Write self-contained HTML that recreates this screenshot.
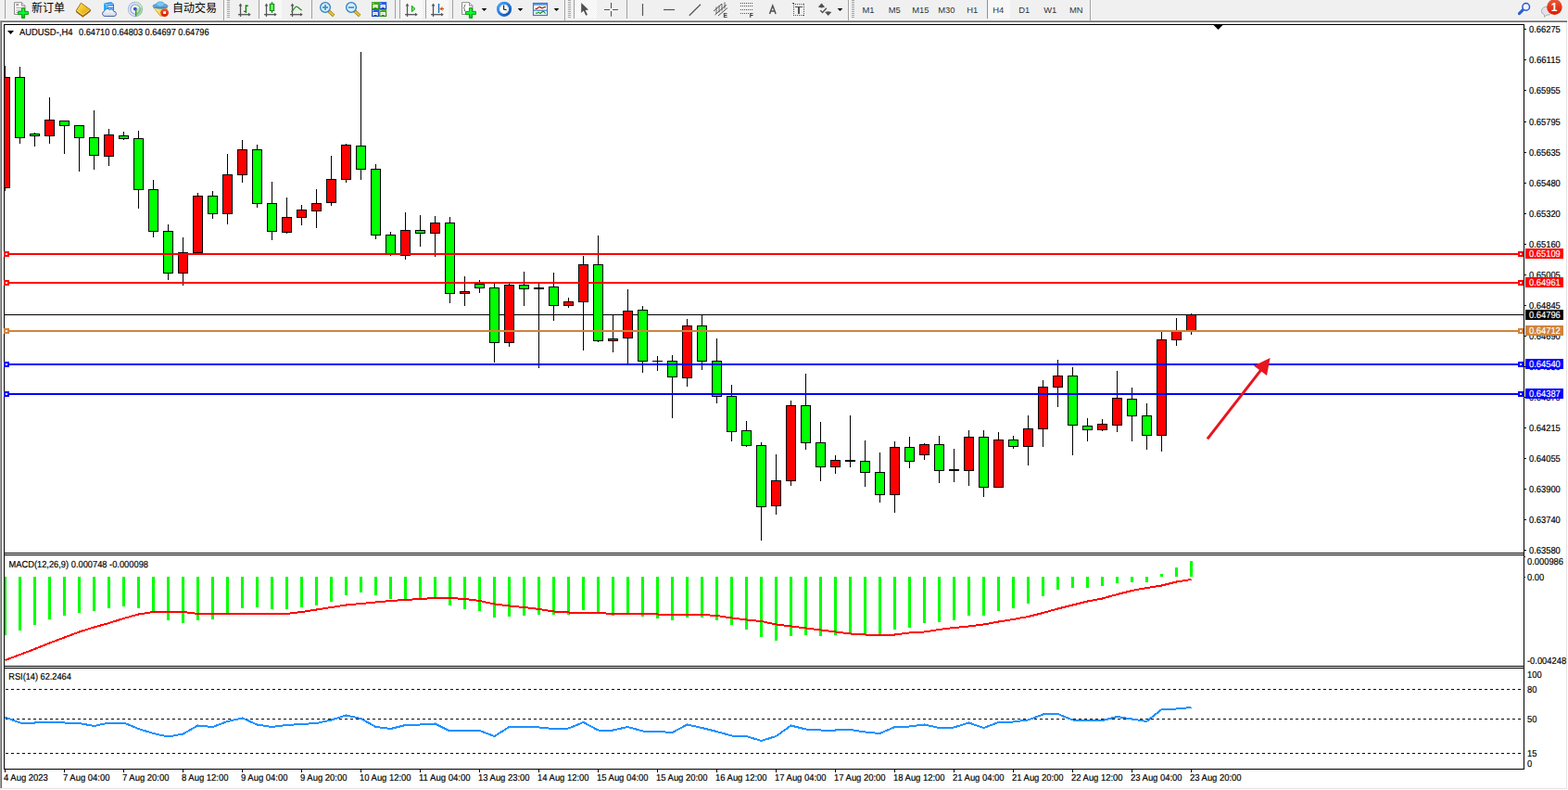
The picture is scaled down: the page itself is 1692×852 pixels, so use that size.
<!DOCTYPE html>
<html><head><meta charset="utf-8"><title>AUDUSD H4</title>
<style>
html,body{margin:0;padding:0;background:#f0f0f0;overflow:hidden}
svg{display:block}
text{font-family:"Liberation Sans",sans-serif;}
</style></head><body>
<svg width="1692" height="852" viewBox="0 0 1692 852" shape-rendering="crispEdges">
<defs>
<clipPath id="cm"><rect x="5" y="27" width="1639" height="569"/></clipPath>
<clipPath id="cm2"><rect x="5" y="599" width="1639" height="119"/></clipPath>
<clipPath id="cm3"><rect x="5" y="721" width="1639" height="108"/></clipPath>
</defs>
<rect x="0" y="0" width="1692" height="852" fill="#f0f0f0"/>
<rect x="0" y="21" width="1692" height="1" fill="#f8f8f8"/>
<rect x="0" y="22" width="1691" height="1" fill="#a0a0a0"/>
<rect x="0" y="23" width="1691" height="1" fill="#696969"/>
<rect x="2" y="24" width="1690" height="828" fill="#fff"/>
<rect x="0" y="22" width="1" height="828" fill="#a0a0a0"/>
<rect x="1" y="23" width="1" height="827" fill="#696969"/>
<rect x="1690" y="24" width="1" height="827" fill="#e3e3e3"/>
<rect x="2" y="850" width="1689" height="1" fill="#e3e3e3"/>
<rect x="0" y="850" width="2" height="2" fill="#f0f0f0"/>
<rect x="4" y="26" width="1641" height="1" fill="#000"/>
<rect x="4" y="596" width="1641" height="1" fill="#000"/>
<rect x="4" y="598" width="1641" height="1" fill="#000"/>
<rect x="4" y="718" width="1641" height="1" fill="#000"/>
<rect x="4" y="720" width="1641" height="1" fill="#000"/>
<rect x="4" y="829" width="1641" height="1" fill="#000"/>
<rect x="4" y="26" width="1" height="804" fill="#000"/>
<rect x="1644" y="26" width="1" height="804" fill="#000"/>
<rect x="1645" y="31" width="2" height="1" fill="#000"/>
<text x="1650" y="35" font-size="10.2" fill="#000" textLength="33.8" lengthAdjust="spacingAndGlyphs" text-rendering="geometricPrecision" stroke="#000" stroke-width=".18">0.66275</text>
<rect x="1645" y="64" width="2" height="1" fill="#000"/>
<text x="1650" y="68" font-size="10.2" fill="#000" textLength="33.8" lengthAdjust="spacingAndGlyphs" text-rendering="geometricPrecision" stroke="#000" stroke-width=".18">0.66115</text>
<rect x="1645" y="97" width="2" height="1" fill="#000"/>
<text x="1650" y="101" font-size="10.2" fill="#000" textLength="33.8" lengthAdjust="spacingAndGlyphs" text-rendering="geometricPrecision" stroke="#000" stroke-width=".18">0.65955</text>
<rect x="1645" y="131" width="2" height="1" fill="#000"/>
<text x="1650" y="135" font-size="10.2" fill="#000" textLength="33.8" lengthAdjust="spacingAndGlyphs" text-rendering="geometricPrecision" stroke="#000" stroke-width=".18">0.65795</text>
<rect x="1645" y="164" width="2" height="1" fill="#000"/>
<text x="1650" y="168" font-size="10.2" fill="#000" textLength="33.8" lengthAdjust="spacingAndGlyphs" text-rendering="geometricPrecision" stroke="#000" stroke-width=".18">0.65635</text>
<rect x="1645" y="197" width="2" height="1" fill="#000"/>
<text x="1650" y="201" font-size="10.2" fill="#000" textLength="33.8" lengthAdjust="spacingAndGlyphs" text-rendering="geometricPrecision" stroke="#000" stroke-width=".18">0.65480</text>
<rect x="1645" y="230" width="2" height="1" fill="#000"/>
<text x="1650" y="234" font-size="10.2" fill="#000" textLength="33.8" lengthAdjust="spacingAndGlyphs" text-rendering="geometricPrecision" stroke="#000" stroke-width=".18">0.65320</text>
<rect x="1645" y="263" width="2" height="1" fill="#000"/>
<text x="1650" y="267" font-size="10.2" fill="#000" textLength="33.8" lengthAdjust="spacingAndGlyphs" text-rendering="geometricPrecision" stroke="#000" stroke-width=".18">0.65160</text>
<rect x="1645" y="296" width="2" height="1" fill="#000"/>
<text x="1650" y="300" font-size="10.2" fill="#000" textLength="33.8" lengthAdjust="spacingAndGlyphs" text-rendering="geometricPrecision" stroke="#000" stroke-width=".18">0.65005</text>
<rect x="1645" y="329" width="2" height="1" fill="#000"/>
<text x="1650" y="333" font-size="10.2" fill="#000" textLength="33.8" lengthAdjust="spacingAndGlyphs" text-rendering="geometricPrecision" stroke="#000" stroke-width=".18">0.64845</text>
<rect x="1645" y="362" width="2" height="1" fill="#000"/>
<text x="1650" y="366" font-size="10.2" fill="#000" textLength="33.8" lengthAdjust="spacingAndGlyphs" text-rendering="geometricPrecision" stroke="#000" stroke-width=".18">0.64690</text>
<rect x="1645" y="395" width="2" height="1" fill="#000"/>
<text x="1650" y="399" font-size="10.2" fill="#000" textLength="33.8" lengthAdjust="spacingAndGlyphs" text-rendering="geometricPrecision" stroke="#000" stroke-width=".18">0.64530</text>
<rect x="1645" y="428" width="2" height="1" fill="#000"/>
<text x="1650" y="432" font-size="10.2" fill="#000" textLength="33.8" lengthAdjust="spacingAndGlyphs" text-rendering="geometricPrecision" stroke="#000" stroke-width=".18">0.64370</text>
<rect x="1645" y="461" width="2" height="1" fill="#000"/>
<text x="1650" y="465" font-size="10.2" fill="#000" textLength="33.8" lengthAdjust="spacingAndGlyphs" text-rendering="geometricPrecision" stroke="#000" stroke-width=".18">0.64215</text>
<rect x="1645" y="494" width="2" height="1" fill="#000"/>
<text x="1650" y="498" font-size="10.2" fill="#000" textLength="33.8" lengthAdjust="spacingAndGlyphs" text-rendering="geometricPrecision" stroke="#000" stroke-width=".18">0.64055</text>
<rect x="1645" y="527" width="2" height="1" fill="#000"/>
<text x="1650" y="531" font-size="10.2" fill="#000" textLength="33.8" lengthAdjust="spacingAndGlyphs" text-rendering="geometricPrecision" stroke="#000" stroke-width=".18">0.63900</text>
<rect x="1645" y="560" width="2" height="1" fill="#000"/>
<text x="1650" y="564" font-size="10.2" fill="#000" textLength="33.8" lengthAdjust="spacingAndGlyphs" text-rendering="geometricPrecision" stroke="#000" stroke-width=".18">0.63740</text>
<rect x="1645" y="593" width="2" height="1" fill="#000"/>
<text x="1650" y="597" font-size="10.2" fill="#000" textLength="33.8" lengthAdjust="spacingAndGlyphs" text-rendering="geometricPrecision" stroke="#000" stroke-width=".18">0.63580</text>
<rect x="5" y="339" width="1639" height="1" fill="#000"/>
<g clip-path="url(#cm)">
<rect x="5" y="71" width="1" height="135" fill="#000"/>
<rect x="0" y="83" width="11" height="120" fill="#000"/>
<rect x="1" y="84" width="9" height="118" fill="#ff0000"/>
<rect x="21" y="72" width="1" height="83" fill="#000"/>
<rect x="16" y="83" width="11" height="66" fill="#000"/>
<rect x="17" y="84" width="9" height="64" fill="#00ff00"/>
<rect x="37" y="143" width="1" height="15" fill="#000"/>
<rect x="32" y="144" width="11" height="3" fill="#000"/>
<rect x="33" y="145" width="9" height="1" fill="#00ff00"/>
<rect x="53" y="105" width="1" height="50" fill="#000"/>
<rect x="48" y="129" width="11" height="18" fill="#000"/>
<rect x="49" y="130" width="9" height="16" fill="#ff0000"/>
<rect x="69" y="130" width="1" height="36" fill="#000"/>
<rect x="64" y="130" width="11" height="6" fill="#000"/>
<rect x="65" y="131" width="9" height="4" fill="#00ff00"/>
<rect x="85" y="135" width="1" height="50" fill="#000"/>
<rect x="80" y="135" width="11" height="14" fill="#000"/>
<rect x="81" y="136" width="9" height="12" fill="#00ff00"/>
<rect x="101" y="119" width="1" height="64" fill="#000"/>
<rect x="96" y="148" width="11" height="20" fill="#000"/>
<rect x="97" y="149" width="9" height="18" fill="#00ff00"/>
<rect x="117" y="139" width="1" height="40" fill="#000"/>
<rect x="112" y="145" width="11" height="24" fill="#000"/>
<rect x="113" y="146" width="9" height="22" fill="#ff0000"/>
<rect x="133" y="142" width="1" height="9" fill="#000"/>
<rect x="128" y="146" width="11" height="4" fill="#000"/>
<rect x="129" y="147" width="9" height="2" fill="#00ff00"/>
<rect x="149" y="141" width="1" height="84" fill="#000"/>
<rect x="144" y="149" width="11" height="56" fill="#000"/>
<rect x="145" y="150" width="9" height="54" fill="#00ff00"/>
<rect x="165" y="194" width="1" height="62" fill="#000"/>
<rect x="160" y="204" width="11" height="46" fill="#000"/>
<rect x="161" y="205" width="9" height="44" fill="#00ff00"/>
<rect x="181" y="242" width="1" height="60" fill="#000"/>
<rect x="176" y="249" width="11" height="46" fill="#000"/>
<rect x="177" y="250" width="9" height="44" fill="#00ff00"/>
<rect x="197" y="256" width="1" height="52" fill="#000"/>
<rect x="192" y="272" width="11" height="23" fill="#000"/>
<rect x="193" y="273" width="9" height="21" fill="#ff0000"/>
<rect x="213" y="208" width="1" height="66" fill="#000"/>
<rect x="208" y="211" width="11" height="62" fill="#000"/>
<rect x="209" y="212" width="9" height="60" fill="#ff0000"/>
<rect x="229" y="206" width="1" height="30" fill="#000"/>
<rect x="224" y="211" width="11" height="20" fill="#000"/>
<rect x="225" y="212" width="9" height="18" fill="#00ff00"/>
<rect x="245" y="166" width="1" height="76" fill="#000"/>
<rect x="240" y="188" width="11" height="43" fill="#000"/>
<rect x="241" y="189" width="9" height="41" fill="#ff0000"/>
<rect x="261" y="151" width="1" height="46" fill="#000"/>
<rect x="256" y="161" width="11" height="28" fill="#000"/>
<rect x="257" y="162" width="9" height="26" fill="#ff0000"/>
<rect x="277" y="156" width="1" height="68" fill="#000"/>
<rect x="272" y="161" width="11" height="59" fill="#000"/>
<rect x="273" y="162" width="9" height="57" fill="#00ff00"/>
<rect x="293" y="196" width="1" height="63" fill="#000"/>
<rect x="288" y="219" width="11" height="31" fill="#000"/>
<rect x="289" y="220" width="9" height="29" fill="#00ff00"/>
<rect x="309" y="213" width="1" height="39" fill="#000"/>
<rect x="304" y="234" width="11" height="17" fill="#000"/>
<rect x="305" y="235" width="9" height="15" fill="#ff0000"/>
<rect x="325" y="221" width="1" height="22" fill="#000"/>
<rect x="320" y="226" width="11" height="9" fill="#000"/>
<rect x="321" y="227" width="9" height="7" fill="#ff0000"/>
<rect x="341" y="204" width="1" height="42" fill="#000"/>
<rect x="336" y="219" width="11" height="9" fill="#000"/>
<rect x="337" y="220" width="9" height="7" fill="#ff0000"/>
<rect x="357" y="168" width="1" height="54" fill="#000"/>
<rect x="352" y="193" width="11" height="26" fill="#000"/>
<rect x="353" y="194" width="9" height="24" fill="#ff0000"/>
<rect x="373" y="155" width="1" height="42" fill="#000"/>
<rect x="368" y="156" width="11" height="38" fill="#000"/>
<rect x="369" y="157" width="9" height="36" fill="#ff0000"/>
<rect x="389" y="56" width="1" height="138" fill="#000"/>
<rect x="384" y="157" width="11" height="26" fill="#000"/>
<rect x="385" y="158" width="9" height="24" fill="#00ff00"/>
<rect x="405" y="177" width="1" height="81" fill="#000"/>
<rect x="400" y="182" width="11" height="72" fill="#000"/>
<rect x="401" y="183" width="9" height="70" fill="#00ff00"/>
<rect x="421" y="250" width="1" height="26" fill="#000"/>
<rect x="416" y="253" width="11" height="22" fill="#000"/>
<rect x="417" y="254" width="9" height="20" fill="#00ff00"/>
<rect x="437" y="229" width="1" height="51" fill="#000"/>
<rect x="432" y="248" width="11" height="28" fill="#000"/>
<rect x="433" y="249" width="9" height="26" fill="#ff0000"/>
<rect x="453" y="232" width="1" height="34" fill="#000"/>
<rect x="448" y="248" width="11" height="4" fill="#000"/>
<rect x="449" y="249" width="9" height="2" fill="#00ff00"/>
<rect x="469" y="233" width="1" height="44" fill="#000"/>
<rect x="464" y="240" width="11" height="12" fill="#000"/>
<rect x="465" y="241" width="9" height="10" fill="#ff0000"/>
<rect x="485" y="234" width="1" height="93" fill="#000"/>
<rect x="480" y="240" width="11" height="77" fill="#000"/>
<rect x="481" y="241" width="9" height="75" fill="#00ff00"/>
<rect x="501" y="298" width="1" height="32" fill="#000"/>
<rect x="496" y="314" width="11" height="3" fill="#000"/>
<rect x="497" y="315" width="9" height="1" fill="#ff0000"/>
<rect x="517" y="302" width="1" height="14" fill="#000"/>
<rect x="512" y="306" width="11" height="5" fill="#000"/>
<rect x="513" y="307" width="9" height="3" fill="#00ff00"/>
<rect x="533" y="306" width="1" height="85" fill="#000"/>
<rect x="528" y="310" width="11" height="60" fill="#000"/>
<rect x="529" y="311" width="9" height="58" fill="#00ff00"/>
<rect x="549" y="306" width="1" height="68" fill="#000"/>
<rect x="544" y="307" width="11" height="63" fill="#000"/>
<rect x="545" y="308" width="9" height="61" fill="#ff0000"/>
<rect x="565" y="293" width="1" height="37" fill="#000"/>
<rect x="560" y="307" width="11" height="5" fill="#000"/>
<rect x="561" y="308" width="9" height="3" fill="#00ff00"/>
<rect x="581" y="306" width="1" height="91" fill="#000"/>
<rect x="576" y="310" width="11" height="2" fill="#000"/>
<rect x="597" y="294" width="1" height="52" fill="#000"/>
<rect x="592" y="309" width="11" height="21" fill="#000"/>
<rect x="593" y="310" width="9" height="19" fill="#00ff00"/>
<rect x="613" y="321" width="1" height="11" fill="#000"/>
<rect x="608" y="325" width="11" height="5" fill="#000"/>
<rect x="609" y="326" width="9" height="3" fill="#ff0000"/>
<rect x="629" y="276" width="1" height="102" fill="#000"/>
<rect x="624" y="285" width="11" height="41" fill="#000"/>
<rect x="625" y="286" width="9" height="39" fill="#ff0000"/>
<rect x="645" y="254" width="1" height="115" fill="#000"/>
<rect x="640" y="285" width="11" height="83" fill="#000"/>
<rect x="641" y="286" width="9" height="81" fill="#00ff00"/>
<rect x="661" y="340" width="1" height="40" fill="#000"/>
<rect x="656" y="365" width="11" height="3" fill="#000"/>
<rect x="657" y="366" width="9" height="1" fill="#ff0000"/>
<rect x="677" y="312" width="1" height="80" fill="#000"/>
<rect x="672" y="335" width="11" height="30" fill="#000"/>
<rect x="673" y="336" width="9" height="28" fill="#ff0000"/>
<rect x="693" y="330" width="1" height="72" fill="#000"/>
<rect x="688" y="334" width="11" height="56" fill="#000"/>
<rect x="689" y="335" width="9" height="54" fill="#00ff00"/>
<rect x="709" y="384" width="1" height="16" fill="#000"/>
<rect x="704" y="389" width="11" height="1" fill="#000"/>
<rect x="725" y="383" width="1" height="68" fill="#000"/>
<rect x="720" y="389" width="11" height="18" fill="#000"/>
<rect x="721" y="390" width="9" height="16" fill="#00ff00"/>
<rect x="741" y="344" width="1" height="73" fill="#000"/>
<rect x="736" y="351" width="11" height="57" fill="#000"/>
<rect x="737" y="352" width="9" height="55" fill="#ff0000"/>
<rect x="757" y="340" width="1" height="59" fill="#000"/>
<rect x="752" y="351" width="11" height="39" fill="#000"/>
<rect x="753" y="352" width="9" height="37" fill="#00ff00"/>
<rect x="773" y="365" width="1" height="70" fill="#000"/>
<rect x="768" y="389" width="11" height="39" fill="#000"/>
<rect x="769" y="390" width="9" height="37" fill="#00ff00"/>
<rect x="789" y="415" width="1" height="61" fill="#000"/>
<rect x="784" y="427" width="11" height="39" fill="#000"/>
<rect x="785" y="428" width="9" height="37" fill="#00ff00"/>
<rect x="805" y="454" width="1" height="28" fill="#000"/>
<rect x="800" y="464" width="11" height="17" fill="#000"/>
<rect x="801" y="465" width="9" height="15" fill="#00ff00"/>
<rect x="821" y="477" width="1" height="106" fill="#000"/>
<rect x="816" y="480" width="11" height="67" fill="#000"/>
<rect x="817" y="481" width="9" height="65" fill="#00ff00"/>
<rect x="837" y="490" width="1" height="65" fill="#000"/>
<rect x="832" y="518" width="11" height="28" fill="#000"/>
<rect x="833" y="519" width="9" height="26" fill="#ff0000"/>
<rect x="853" y="432" width="1" height="92" fill="#000"/>
<rect x="848" y="437" width="11" height="82" fill="#000"/>
<rect x="849" y="438" width="9" height="80" fill="#ff0000"/>
<rect x="869" y="403" width="1" height="82" fill="#000"/>
<rect x="864" y="437" width="11" height="41" fill="#000"/>
<rect x="865" y="438" width="9" height="39" fill="#00ff00"/>
<rect x="885" y="455" width="1" height="64" fill="#000"/>
<rect x="880" y="477" width="11" height="27" fill="#000"/>
<rect x="881" y="478" width="9" height="25" fill="#00ff00"/>
<rect x="901" y="491" width="1" height="20" fill="#000"/>
<rect x="896" y="496" width="11" height="8" fill="#000"/>
<rect x="897" y="497" width="9" height="6" fill="#ff0000"/>
<rect x="917" y="448" width="1" height="56" fill="#000"/>
<rect x="912" y="496" width="11" height="2" fill="#000"/>
<rect x="933" y="475" width="1" height="50" fill="#000"/>
<rect x="928" y="497" width="11" height="13" fill="#000"/>
<rect x="929" y="498" width="9" height="11" fill="#00ff00"/>
<rect x="949" y="488" width="1" height="54" fill="#000"/>
<rect x="944" y="509" width="11" height="25" fill="#000"/>
<rect x="945" y="510" width="9" height="23" fill="#00ff00"/>
<rect x="965" y="476" width="1" height="77" fill="#000"/>
<rect x="960" y="482" width="11" height="52" fill="#000"/>
<rect x="961" y="483" width="9" height="50" fill="#ff0000"/>
<rect x="981" y="471" width="1" height="34" fill="#000"/>
<rect x="976" y="482" width="11" height="16" fill="#000"/>
<rect x="977" y="483" width="9" height="14" fill="#00ff00"/>
<rect x="997" y="478" width="1" height="18" fill="#000"/>
<rect x="992" y="479" width="11" height="12" fill="#000"/>
<rect x="993" y="480" width="9" height="10" fill="#ff0000"/>
<rect x="1013" y="470" width="1" height="51" fill="#000"/>
<rect x="1008" y="479" width="11" height="29" fill="#000"/>
<rect x="1009" y="480" width="9" height="27" fill="#00ff00"/>
<rect x="1029" y="484" width="1" height="36" fill="#000"/>
<rect x="1024" y="506" width="11" height="2" fill="#000"/>
<rect x="1045" y="464" width="1" height="60" fill="#000"/>
<rect x="1040" y="471" width="11" height="37" fill="#000"/>
<rect x="1041" y="472" width="9" height="35" fill="#ff0000"/>
<rect x="1061" y="464" width="1" height="72" fill="#000"/>
<rect x="1056" y="471" width="11" height="55" fill="#000"/>
<rect x="1057" y="472" width="9" height="53" fill="#00ff00"/>
<rect x="1077" y="466" width="1" height="60" fill="#000"/>
<rect x="1072" y="474" width="11" height="52" fill="#000"/>
<rect x="1073" y="475" width="9" height="50" fill="#ff0000"/>
<rect x="1093" y="470" width="1" height="14" fill="#000"/>
<rect x="1088" y="474" width="11" height="8" fill="#000"/>
<rect x="1089" y="475" width="9" height="6" fill="#00ff00"/>
<rect x="1109" y="448" width="1" height="54" fill="#000"/>
<rect x="1104" y="462" width="11" height="20" fill="#000"/>
<rect x="1105" y="463" width="9" height="18" fill="#ff0000"/>
<rect x="1125" y="410" width="1" height="72" fill="#000"/>
<rect x="1120" y="417" width="11" height="46" fill="#000"/>
<rect x="1121" y="418" width="9" height="44" fill="#ff0000"/>
<rect x="1141" y="388" width="1" height="51" fill="#000"/>
<rect x="1136" y="405" width="11" height="13" fill="#000"/>
<rect x="1137" y="406" width="9" height="11" fill="#ff0000"/>
<rect x="1157" y="396" width="1" height="95" fill="#000"/>
<rect x="1152" y="405" width="11" height="54" fill="#000"/>
<rect x="1153" y="406" width="9" height="52" fill="#00ff00"/>
<rect x="1173" y="451" width="1" height="25" fill="#000"/>
<rect x="1168" y="459" width="11" height="5" fill="#000"/>
<rect x="1169" y="460" width="9" height="3" fill="#00ff00"/>
<rect x="1189" y="452" width="1" height="13" fill="#000"/>
<rect x="1184" y="457" width="11" height="7" fill="#000"/>
<rect x="1185" y="458" width="9" height="5" fill="#ff0000"/>
<rect x="1205" y="400" width="1" height="66" fill="#000"/>
<rect x="1200" y="429" width="11" height="30" fill="#000"/>
<rect x="1201" y="430" width="9" height="28" fill="#ff0000"/>
<rect x="1221" y="418" width="1" height="58" fill="#000"/>
<rect x="1216" y="430" width="11" height="19" fill="#000"/>
<rect x="1217" y="431" width="9" height="17" fill="#00ff00"/>
<rect x="1237" y="435" width="1" height="50" fill="#000"/>
<rect x="1232" y="448" width="11" height="22" fill="#000"/>
<rect x="1233" y="449" width="9" height="20" fill="#00ff00"/>
<rect x="1253" y="358" width="1" height="129" fill="#000"/>
<rect x="1248" y="366" width="11" height="104" fill="#000"/>
<rect x="1249" y="367" width="9" height="102" fill="#ff0000"/>
<rect x="1269" y="343" width="1" height="30" fill="#000"/>
<rect x="1264" y="357" width="11" height="10" fill="#000"/>
<rect x="1265" y="358" width="9" height="8" fill="#ff0000"/>
<rect x="1285" y="338" width="1" height="23" fill="#000"/>
<rect x="1280" y="339" width="11" height="18" fill="#000"/>
<rect x="1281" y="340" width="9" height="16" fill="#ff0000"/>
</g>
<rect x="5" y="273" width="1639" height="2" fill="#ff0000"/>
<rect x="4" y="271" width="6" height="6" fill="#ff0000"/>
<rect x="6" y="273" width="2" height="2" fill="#fff"/>
<rect x="1638" y="271" width="6" height="6" fill="#ff0000"/>
<rect x="1640" y="273" width="2" height="2" fill="#fff"/>
<rect x="1646" y="268" width="41" height="11" fill="#ff0000"/>
<text x="1650" y="277" font-size="10.2" fill="#fff" textLength="33.8" lengthAdjust="spacingAndGlyphs" text-rendering="geometricPrecision" stroke="#fff" stroke-width=".18">0.65109</text>
<rect x="5" y="304" width="1639" height="2" fill="#ff0000"/>
<rect x="4" y="302" width="6" height="6" fill="#ff0000"/>
<rect x="6" y="304" width="2" height="2" fill="#fff"/>
<rect x="1638" y="302" width="6" height="6" fill="#ff0000"/>
<rect x="1640" y="304" width="2" height="2" fill="#fff"/>
<rect x="1646" y="299" width="41" height="11" fill="#ff0000"/>
<text x="1650" y="308" font-size="10.2" fill="#fff" textLength="33.8" lengthAdjust="spacingAndGlyphs" text-rendering="geometricPrecision" stroke="#fff" stroke-width=".18">0.64961</text>
<rect x="1646" y="334" width="41" height="11" fill="#000"/>
<text x="1650" y="343" font-size="10.2" fill="#fff" textLength="33.8" lengthAdjust="spacingAndGlyphs" text-rendering="geometricPrecision" stroke="#fff" stroke-width=".18">0.64796</text>
<rect x="5" y="356" width="1639" height="2" fill="#d0843c"/>
<rect x="4" y="354" width="6" height="6" fill="#d0843c"/>
<rect x="6" y="356" width="2" height="2" fill="#fff"/>
<rect x="1638" y="354" width="6" height="6" fill="#d0843c"/>
<rect x="1640" y="356" width="2" height="2" fill="#fff"/>
<rect x="1646" y="351" width="41" height="11" fill="#d0843c"/>
<text x="1650" y="360" font-size="10.2" fill="#fff" textLength="33.8" lengthAdjust="spacingAndGlyphs" text-rendering="geometricPrecision" stroke="#fff" stroke-width=".18">0.64712</text>
<rect x="5" y="392" width="1639" height="2" fill="#0000ff"/>
<rect x="4" y="390" width="6" height="6" fill="#0000ff"/>
<rect x="6" y="392" width="2" height="2" fill="#fff"/>
<rect x="1638" y="390" width="6" height="6" fill="#0000ff"/>
<rect x="1640" y="392" width="2" height="2" fill="#fff"/>
<rect x="1646" y="387" width="41" height="11" fill="#0000ff"/>
<text x="1650" y="396" font-size="10.2" fill="#fff" textLength="33.8" lengthAdjust="spacingAndGlyphs" text-rendering="geometricPrecision" stroke="#fff" stroke-width=".18">0.64540</text>
<rect x="5" y="424" width="1639" height="2" fill="#0000ff"/>
<rect x="4" y="422" width="6" height="6" fill="#0000ff"/>
<rect x="6" y="424" width="2" height="2" fill="#fff"/>
<rect x="1638" y="422" width="6" height="6" fill="#0000ff"/>
<rect x="1640" y="424" width="2" height="2" fill="#fff"/>
<rect x="1646" y="419" width="41" height="11" fill="#0000ff"/>
<text x="1650" y="428" font-size="10.2" fill="#fff" textLength="33.8" lengthAdjust="spacingAndGlyphs" text-rendering="geometricPrecision" stroke="#fff" stroke-width=".18">0.64387</text>
<g shape-rendering="geometricPrecision"><line x1="1302.9" y1="473.3" x2="1361" y2="398.6" stroke="#e8151f" stroke-width="3"/><polygon points="1370.6,386 1353,394.4 1367,404.9" fill="#e8151f"/></g>
<polygon points="1309.5,27 1319.5,27 1314.5,32" fill="#000" shape-rendering="geometricPrecision"/>
<polygon points="8,33 15,33 11.5,37" fill="#000" shape-rendering="geometricPrecision"/>
<text x="21" y="38" font-size="10.2" fill="#000" textLength="57.4" lengthAdjust="spacingAndGlyphs" text-rendering="geometricPrecision" stroke="#000" stroke-width=".18">AUDUSD-,H4</text>
<text x="85.1" y="38" font-size="10.2" fill="#000" textLength="140.4" lengthAdjust="spacingAndGlyphs" text-rendering="geometricPrecision" stroke="#000" stroke-width=".18">0.64710 0.64803 0.64697 0.64796</text>
<g clip-path="url(#cm2)">
<rect x="4" y="622" width="3" height="63" fill="#00ff00"/>
<rect x="20" y="622" width="3" height="58" fill="#00ff00"/>
<rect x="36" y="622" width="3" height="52" fill="#00ff00"/>
<rect x="52" y="622" width="3" height="46" fill="#00ff00"/>
<rect x="68" y="622" width="3" height="42" fill="#00ff00"/>
<rect x="84" y="622" width="3" height="39" fill="#00ff00"/>
<rect x="100" y="622" width="3" height="37" fill="#00ff00"/>
<rect x="116" y="622" width="3" height="34" fill="#00ff00"/>
<rect x="132" y="622" width="3" height="32" fill="#00ff00"/>
<rect x="148" y="622" width="3" height="34" fill="#00ff00"/>
<rect x="164" y="622" width="3" height="38" fill="#00ff00"/>
<rect x="180" y="622" width="3" height="47" fill="#00ff00"/>
<rect x="196" y="622" width="3" height="50" fill="#00ff00"/>
<rect x="212" y="622" width="3" height="47" fill="#00ff00"/>
<rect x="228" y="622" width="3" height="46" fill="#00ff00"/>
<rect x="244" y="622" width="3" height="40" fill="#00ff00"/>
<rect x="260" y="622" width="3" height="34" fill="#00ff00"/>
<rect x="276" y="622" width="3" height="33" fill="#00ff00"/>
<rect x="292" y="622" width="3" height="35" fill="#00ff00"/>
<rect x="308" y="622" width="3" height="35" fill="#00ff00"/>
<rect x="324" y="622" width="3" height="33" fill="#00ff00"/>
<rect x="340" y="622" width="3" height="31" fill="#00ff00"/>
<rect x="356" y="622" width="3" height="27" fill="#00ff00"/>
<rect x="372" y="622" width="3" height="20" fill="#00ff00"/>
<rect x="388" y="622" width="3" height="17" fill="#00ff00"/>
<rect x="404" y="622" width="3" height="20" fill="#00ff00"/>
<rect x="420" y="622" width="3" height="24" fill="#00ff00"/>
<rect x="436" y="622" width="3" height="24" fill="#00ff00"/>
<rect x="452" y="622" width="3" height="24" fill="#00ff00"/>
<rect x="468" y="622" width="3" height="23" fill="#00ff00"/>
<rect x="484" y="622" width="3" height="31" fill="#00ff00"/>
<rect x="500" y="622" width="3" height="35" fill="#00ff00"/>
<rect x="516" y="622" width="3" height="37" fill="#00ff00"/>
<rect x="532" y="622" width="3" height="44" fill="#00ff00"/>
<rect x="548" y="622" width="3" height="43" fill="#00ff00"/>
<rect x="564" y="622" width="3" height="42" fill="#00ff00"/>
<rect x="580" y="622" width="3" height="41" fill="#00ff00"/>
<rect x="596" y="622" width="3" height="41" fill="#00ff00"/>
<rect x="612" y="622" width="3" height="41" fill="#00ff00"/>
<rect x="628" y="622" width="3" height="36" fill="#00ff00"/>
<rect x="644" y="622" width="3" height="39" fill="#00ff00"/>
<rect x="660" y="622" width="3" height="42" fill="#00ff00"/>
<rect x="676" y="622" width="3" height="40" fill="#00ff00"/>
<rect x="692" y="622" width="3" height="43" fill="#00ff00"/>
<rect x="708" y="622" width="3" height="45" fill="#00ff00"/>
<rect x="724" y="622" width="3" height="47" fill="#00ff00"/>
<rect x="740" y="622" width="3" height="44" fill="#00ff00"/>
<rect x="756" y="622" width="3" height="44" fill="#00ff00"/>
<rect x="772" y="622" width="3" height="47" fill="#00ff00"/>
<rect x="788" y="622" width="3" height="52" fill="#00ff00"/>
<rect x="804" y="622" width="3" height="57" fill="#00ff00"/>
<rect x="820" y="622" width="3" height="65" fill="#00ff00"/>
<rect x="836" y="622" width="3" height="69" fill="#00ff00"/>
<rect x="852" y="622" width="3" height="64" fill="#00ff00"/>
<rect x="868" y="622" width="3" height="63" fill="#00ff00"/>
<rect x="884" y="622" width="3" height="64" fill="#00ff00"/>
<rect x="900" y="622" width="3" height="63" fill="#00ff00"/>
<rect x="916" y="622" width="3" height="62" fill="#00ff00"/>
<rect x="932" y="622" width="3" height="62" fill="#00ff00"/>
<rect x="948" y="622" width="3" height="62" fill="#00ff00"/>
<rect x="964" y="622" width="3" height="57" fill="#00ff00"/>
<rect x="980" y="622" width="3" height="55" fill="#00ff00"/>
<rect x="996" y="622" width="3" height="50" fill="#00ff00"/>
<rect x="1012" y="622" width="3" height="49" fill="#00ff00"/>
<rect x="1028" y="622" width="3" height="47" fill="#00ff00"/>
<rect x="1044" y="622" width="3" height="42" fill="#00ff00"/>
<rect x="1060" y="622" width="3" height="42" fill="#00ff00"/>
<rect x="1076" y="622" width="3" height="37" fill="#00ff00"/>
<rect x="1092" y="622" width="3" height="34" fill="#00ff00"/>
<rect x="1108" y="622" width="3" height="29" fill="#00ff00"/>
<rect x="1124" y="622" width="3" height="21" fill="#00ff00"/>
<rect x="1140" y="622" width="3" height="14" fill="#00ff00"/>
<rect x="1156" y="622" width="3" height="12" fill="#00ff00"/>
<rect x="1172" y="622" width="3" height="12" fill="#00ff00"/>
<rect x="1188" y="622" width="3" height="10" fill="#00ff00"/>
<rect x="1204" y="622" width="3" height="7" fill="#00ff00"/>
<rect x="1220" y="622" width="3" height="6" fill="#00ff00"/>
<rect x="1236" y="622" width="3" height="6" fill="#00ff00"/>
<rect x="1252" y="619" width="3" height="3" fill="#00ff00"/>
<rect x="1268" y="612" width="3" height="10" fill="#00ff00"/>
<rect x="1284" y="605" width="3" height="17" fill="#00ff00"/>
<polyline points="5.5,712.0 21.5,706.0 37.5,700.0 53.5,693.5 69.5,687.5 85.5,681.5 101.5,676.5 117.5,672.0 133.5,667.0 149.5,662.5 165.5,660.0 181.5,660.0 197.5,660.0 213.5,662.0 229.5,662.0 245.5,662.0 261.5,662.0 277.5,662.0 293.5,662.0 309.5,662.0 325.5,660.0 341.5,657.5 357.5,655.0 373.5,652.5 389.5,651.0 405.5,649.5 421.5,648.0 437.5,647.0 453.5,646.0 469.5,645.0 485.5,645.0 501.5,646.0 517.5,648.0 533.5,651.5 549.5,653.5 565.5,655.0 581.5,657.0 597.5,659.5 613.5,660.5 629.5,661.0 645.5,661.0 661.5,662.0 677.5,662.0 693.5,662.0 709.5,662.5 725.5,663.0 741.5,663.0 757.5,663.0 773.5,664.0 789.5,666.5 805.5,668.5 821.5,670.0 837.5,673.5 853.5,675.5 869.5,677.5 885.5,679.5 901.5,681.5 917.5,683.5 933.5,684.5 949.5,684.5 965.5,684.5 981.5,682.5 997.5,681.5 1013.5,679.0 1029.5,677.0 1045.5,675.5 1061.5,673.5 1077.5,670.5 1093.5,668.0 1109.5,665.0 1125.5,661.0 1141.5,656.5 1157.5,652.5 1173.5,648.5 1189.5,645.5 1205.5,641.0 1221.5,637.0 1237.5,634.0 1253.5,631.5 1269.5,627.5 1285.5,625.0" fill="none" stroke="#ff0000" stroke-width="2" stroke-linejoin="round"/>
</g>
<text x="9.5" y="612" font-size="10.2" fill="#000" textLength="150.5" lengthAdjust="spacingAndGlyphs" text-rendering="geometricPrecision" stroke="#000" stroke-width=".18">MACD(12,26,9) 0.000748 -0.000098</text>
<rect x="1645" y="600" width="1" height="1" fill="#000"/>
<text x="1648" y="609" font-size="10.2" fill="#000" textLength="39.0" lengthAdjust="spacingAndGlyphs" text-rendering="geometricPrecision" stroke="#000" stroke-width=".18">0.000986</text>
<rect x="1645" y="622" width="1" height="1" fill="#000"/>
<text x="1648" y="626" font-size="10.2" fill="#000" textLength="18.2" lengthAdjust="spacingAndGlyphs" text-rendering="geometricPrecision" stroke="#000" stroke-width=".18">0.00</text>
<text x="1648" y="716" font-size="10.2" fill="#000" textLength="42.1" lengthAdjust="spacingAndGlyphs" text-rendering="geometricPrecision" stroke="#000" stroke-width=".18">-0.004248</text>
<line x1="6" y1="743.5" x2="1642" y2="743.5" stroke="#000" stroke-width="1" stroke-dasharray="3,3"/>
<line x1="6" y1="775.5" x2="1642" y2="775.5" stroke="#000" stroke-width="1" stroke-dasharray="3,3"/>
<line x1="6" y1="812.5" x2="1642" y2="812.5" stroke="#000" stroke-width="1" stroke-dasharray="3,3"/>
<g clip-path="url(#cm3)"><polyline points="5.5,773.5 21.5,779.5 37.5,779.5 53.5,779.0 69.5,779.5 85.5,780.0 101.5,783.0 117.5,779.5 133.5,779.5 149.5,786.0 165.5,791.0 181.5,794.5 197.5,791.5 213.5,782.5 229.5,784.0 245.5,778.0 261.5,774.5 277.5,781.5 293.5,784.0 309.5,782.0 325.5,781.0 341.5,780.0 357.5,776.5 373.5,771.5 389.5,775.0 405.5,784.0 421.5,786.0 437.5,782.0 453.5,781.5 469.5,780.5 485.5,788.5 501.5,788.0 517.5,788.0 533.5,794.0 549.5,784.0 565.5,784.0 581.5,784.5 597.5,786.0 613.5,785.5 629.5,779.0 645.5,787.5 661.5,787.5 677.5,784.0 693.5,788.5 709.5,789.0 725.5,790.0 741.5,781.5 757.5,785.0 773.5,789.0 789.5,793.5 805.5,794.0 821.5,799.0 837.5,794.0 853.5,782.5 869.5,786.5 885.5,787.5 901.5,787.5 917.5,787.0 933.5,789.5 949.5,791.0 965.5,784.0 981.5,783.5 997.5,781.5 1013.5,785.0 1029.5,784.5 1045.5,779.5 1061.5,785.0 1077.5,779.0 1093.5,778.5 1109.5,776.5 1125.5,770.5 1141.5,770.0 1157.5,776.5 1173.5,777.0 1189.5,777.0 1205.5,773.0 1221.5,775.5 1237.5,778.0 1253.5,765.0 1269.5,764.5 1285.5,763.0" fill="none" stroke="#1e90ff" stroke-width="2" stroke-linejoin="round"/></g>
<text x="9.3" y="733" font-size="10.2" fill="#000" textLength="67.5" lengthAdjust="spacingAndGlyphs" text-rendering="geometricPrecision" stroke="#000" stroke-width=".18">RSI(14) 62.2464</text>
<text x="1648" y="731" font-size="10.2" fill="#000" textLength="15.6" lengthAdjust="spacingAndGlyphs" text-rendering="geometricPrecision" stroke="#000" stroke-width=".18">100</text>
<text x="1648" y="747" font-size="10.2" fill="#000" textLength="10.4" lengthAdjust="spacingAndGlyphs" text-rendering="geometricPrecision" stroke="#000" stroke-width=".18">80</text>
<text x="1648" y="779" font-size="10.2" fill="#000" textLength="10.4" lengthAdjust="spacingAndGlyphs" text-rendering="geometricPrecision" stroke="#000" stroke-width=".18">50</text>
<text x="1648" y="816" font-size="10.2" fill="#000" textLength="10.4" lengthAdjust="spacingAndGlyphs" text-rendering="geometricPrecision" stroke="#000" stroke-width=".18">15</text>
<text x="1648" y="827" font-size="10.2" fill="#000" textLength="5.2" lengthAdjust="spacingAndGlyphs" text-rendering="geometricPrecision" stroke="#000" stroke-width=".18">0</text>
<rect x="5" y="830" width="1" height="3" fill="#000"/>
<text x="4" y="842" font-size="10.2" fill="#000" textLength="47.8" lengthAdjust="spacingAndGlyphs" text-rendering="geometricPrecision" stroke="#000" stroke-width=".18">4 Aug 2023</text>
<rect x="69" y="830" width="1" height="3" fill="#000"/>
<text x="68" y="842" font-size="10.2" fill="#000" textLength="50.4" lengthAdjust="spacingAndGlyphs" text-rendering="geometricPrecision" stroke="#000" stroke-width=".18">7 Aug 04:00</text>
<rect x="133" y="830" width="1" height="3" fill="#000"/>
<text x="132" y="842" font-size="10.2" fill="#000" textLength="50.4" lengthAdjust="spacingAndGlyphs" text-rendering="geometricPrecision" stroke="#000" stroke-width=".18">7 Aug 20:00</text>
<rect x="197" y="830" width="1" height="3" fill="#000"/>
<text x="196" y="842" font-size="10.2" fill="#000" textLength="50.4" lengthAdjust="spacingAndGlyphs" text-rendering="geometricPrecision" stroke="#000" stroke-width=".18">8 Aug 12:00</text>
<rect x="261" y="830" width="1" height="3" fill="#000"/>
<text x="260" y="842" font-size="10.2" fill="#000" textLength="50.4" lengthAdjust="spacingAndGlyphs" text-rendering="geometricPrecision" stroke="#000" stroke-width=".18">9 Aug 04:00</text>
<rect x="325" y="830" width="1" height="3" fill="#000"/>
<text x="324" y="842" font-size="10.2" fill="#000" textLength="50.4" lengthAdjust="spacingAndGlyphs" text-rendering="geometricPrecision" stroke="#000" stroke-width=".18">9 Aug 20:00</text>
<rect x="389" y="830" width="1" height="3" fill="#000"/>
<text x="388" y="842" font-size="10.2" fill="#000" textLength="55.6" lengthAdjust="spacingAndGlyphs" text-rendering="geometricPrecision" stroke="#000" stroke-width=".18">10 Aug 12:00</text>
<rect x="453" y="830" width="1" height="3" fill="#000"/>
<text x="452" y="842" font-size="10.2" fill="#000" textLength="55.6" lengthAdjust="spacingAndGlyphs" text-rendering="geometricPrecision" stroke="#000" stroke-width=".18">11 Aug 04:00</text>
<rect x="517" y="830" width="1" height="3" fill="#000"/>
<text x="516" y="842" font-size="10.2" fill="#000" textLength="55.6" lengthAdjust="spacingAndGlyphs" text-rendering="geometricPrecision" stroke="#000" stroke-width=".18">13 Aug 23:00</text>
<rect x="581" y="830" width="1" height="3" fill="#000"/>
<text x="580" y="842" font-size="10.2" fill="#000" textLength="55.6" lengthAdjust="spacingAndGlyphs" text-rendering="geometricPrecision" stroke="#000" stroke-width=".18">14 Aug 12:00</text>
<rect x="645" y="830" width="1" height="3" fill="#000"/>
<text x="644" y="842" font-size="10.2" fill="#000" textLength="55.6" lengthAdjust="spacingAndGlyphs" text-rendering="geometricPrecision" stroke="#000" stroke-width=".18">15 Aug 04:00</text>
<rect x="709" y="830" width="1" height="3" fill="#000"/>
<text x="708" y="842" font-size="10.2" fill="#000" textLength="55.6" lengthAdjust="spacingAndGlyphs" text-rendering="geometricPrecision" stroke="#000" stroke-width=".18">15 Aug 20:00</text>
<rect x="773" y="830" width="1" height="3" fill="#000"/>
<text x="772" y="842" font-size="10.2" fill="#000" textLength="55.6" lengthAdjust="spacingAndGlyphs" text-rendering="geometricPrecision" stroke="#000" stroke-width=".18">16 Aug 12:00</text>
<rect x="837" y="830" width="1" height="3" fill="#000"/>
<text x="836" y="842" font-size="10.2" fill="#000" textLength="55.6" lengthAdjust="spacingAndGlyphs" text-rendering="geometricPrecision" stroke="#000" stroke-width=".18">17 Aug 04:00</text>
<rect x="901" y="830" width="1" height="3" fill="#000"/>
<text x="900" y="842" font-size="10.2" fill="#000" textLength="55.6" lengthAdjust="spacingAndGlyphs" text-rendering="geometricPrecision" stroke="#000" stroke-width=".18">17 Aug 20:00</text>
<rect x="965" y="830" width="1" height="3" fill="#000"/>
<text x="964" y="842" font-size="10.2" fill="#000" textLength="55.6" lengthAdjust="spacingAndGlyphs" text-rendering="geometricPrecision" stroke="#000" stroke-width=".18">18 Aug 12:00</text>
<rect x="1029" y="830" width="1" height="3" fill="#000"/>
<text x="1028" y="842" font-size="10.2" fill="#000" textLength="55.6" lengthAdjust="spacingAndGlyphs" text-rendering="geometricPrecision" stroke="#000" stroke-width=".18">21 Aug 04:00</text>
<rect x="1093" y="830" width="1" height="3" fill="#000"/>
<text x="1092" y="842" font-size="10.2" fill="#000" textLength="55.6" lengthAdjust="spacingAndGlyphs" text-rendering="geometricPrecision" stroke="#000" stroke-width=".18">21 Aug 20:00</text>
<rect x="1157" y="830" width="1" height="3" fill="#000"/>
<text x="1156" y="842" font-size="10.2" fill="#000" textLength="55.6" lengthAdjust="spacingAndGlyphs" text-rendering="geometricPrecision" stroke="#000" stroke-width=".18">22 Aug 12:00</text>
<rect x="1221" y="830" width="1" height="3" fill="#000"/>
<text x="1220" y="842" font-size="10.2" fill="#000" textLength="55.6" lengthAdjust="spacingAndGlyphs" text-rendering="geometricPrecision" stroke="#000" stroke-width=".18">23 Aug 04:00</text>
<rect x="1285" y="830" width="1" height="3" fill="#000"/>
<text x="1284" y="842" font-size="10.2" fill="#000" textLength="55.6" lengthAdjust="spacingAndGlyphs" text-rendering="geometricPrecision" stroke="#000" stroke-width=".18">23 Aug 20:00</text>
<g shape-rendering="crispEdges">
<rect x="241" y="0" width="1" height="22" fill="#a0a0a0"/>
<rect x="242" y="0" width="1" height="22" fill="#fbfbfb"/>
<rect x="609" y="0" width="1" height="22" fill="#a0a0a0"/>
<rect x="610" y="0" width="1" height="22" fill="#fbfbfb"/>
<rect x="915" y="0" width="1" height="22" fill="#a0a0a0"/>
<rect x="916" y="0" width="1" height="22" fill="#fbfbfb"/>
<rect x="1176" y="0" width="1" height="22" fill="#a0a0a0"/>
<rect x="1177" y="0" width="1" height="22" fill="#fbfbfb"/>
<rect x="5" y="0" width="1" height="20" fill="#a0a0a0"/>
<rect x="279" y="0" width="1" height="20" fill="#a0a0a0"/>
<rect x="336" y="0" width="1" height="20" fill="#a0a0a0"/>
<rect x="426" y="0" width="1" height="20" fill="#a0a0a0"/>
<rect x="431" y="0" width="1" height="20" fill="#a0a0a0"/>
<rect x="459" y="0" width="1" height="20" fill="#a0a0a0"/>
<rect x="488" y="0" width="1" height="20" fill="#a0a0a0"/>
<rect x="619" y="0" width="1" height="20" fill="#a0a0a0"/>
<rect x="676" y="0" width="1" height="20" fill="#a0a0a0"/>
<rect x="1065" y="0" width="1" height="20" fill="#909090"/>
<rect x="245" y="0" width="3" height="1" fill="#a6a6a6"/>
<rect x="245" y="2" width="3" height="1" fill="#a6a6a6"/>
<rect x="245" y="4" width="3" height="1" fill="#a6a6a6"/>
<rect x="245" y="6" width="3" height="1" fill="#a6a6a6"/>
<rect x="245" y="8" width="3" height="1" fill="#a6a6a6"/>
<rect x="245" y="10" width="3" height="1" fill="#a6a6a6"/>
<rect x="245" y="12" width="3" height="1" fill="#a6a6a6"/>
<rect x="245" y="14" width="3" height="1" fill="#a6a6a6"/>
<rect x="245" y="16" width="3" height="1" fill="#a6a6a6"/>
<rect x="245" y="18" width="3" height="1" fill="#a6a6a6"/>
<rect x="613" y="0" width="3" height="1" fill="#a6a6a6"/>
<rect x="613" y="2" width="3" height="1" fill="#a6a6a6"/>
<rect x="613" y="4" width="3" height="1" fill="#a6a6a6"/>
<rect x="613" y="6" width="3" height="1" fill="#a6a6a6"/>
<rect x="613" y="8" width="3" height="1" fill="#a6a6a6"/>
<rect x="613" y="10" width="3" height="1" fill="#a6a6a6"/>
<rect x="613" y="12" width="3" height="1" fill="#a6a6a6"/>
<rect x="613" y="14" width="3" height="1" fill="#a6a6a6"/>
<rect x="613" y="16" width="3" height="1" fill="#a6a6a6"/>
<rect x="613" y="18" width="3" height="1" fill="#a6a6a6"/>
<rect x="919" y="0" width="3" height="1" fill="#a6a6a6"/>
<rect x="919" y="2" width="3" height="1" fill="#a6a6a6"/>
<rect x="919" y="4" width="3" height="1" fill="#a6a6a6"/>
<rect x="919" y="6" width="3" height="1" fill="#a6a6a6"/>
<rect x="919" y="8" width="3" height="1" fill="#a6a6a6"/>
<rect x="919" y="10" width="3" height="1" fill="#a6a6a6"/>
<rect x="919" y="12" width="3" height="1" fill="#a6a6a6"/>
<rect x="919" y="14" width="3" height="1" fill="#a6a6a6"/>
<rect x="919" y="16" width="3" height="1" fill="#a6a6a6"/>
<rect x="919" y="18" width="3" height="1" fill="#a6a6a6"/>
<defs><pattern id="chk" width="2" height="2" patternUnits="userSpaceOnUse"><rect width="2" height="2" fill="#fff"/><rect width="1" height="1" fill="#f0f0f0"/><rect x="1" y="1" width="1" height="1" fill="#f0f0f0"/></pattern></defs>
<rect x="280" y="0" width="24" height="20" fill="url(#chk)"/>
<rect x="432" y="0" width="24" height="20" fill="url(#chk)"/>
<rect x="460" y="0" width="24" height="20" fill="url(#chk)"/>
<rect x="620" y="0" width="24" height="20" fill="url(#chk)"/>
<rect x="1066" y="0" width="24" height="20" fill="url(#chk)"/>
</g>
<g shape-rendering="geometricPrecision">
<defs>
<linearGradient id="gPlus" x1="0" y1="0" x2="0" y2="1"><stop offset="0" stop-color="#35e035"/><stop offset=".5" stop-color="#00ff30"/><stop offset="1" stop-color="#10b010"/></linearGradient>
<linearGradient id="gBook" x1="0" y1="0" x2="1" y2="1"><stop offset="0" stop-color="#ffe878"/><stop offset=".5" stop-color="#f0c020"/><stop offset="1" stop-color="#d89a10"/></linearGradient>
<linearGradient id="gBlue" x1="0" y1="0" x2="1" y2="0"><stop offset="0" stop-color="#00a8ff"/><stop offset="1" stop-color="#1e78e8"/></linearGradient>
<linearGradient id="gCloud" x1="0" y1="0" x2="0" y2="1"><stop offset="0" stop-color="#ffffff"/><stop offset="1" stop-color="#c8d4e8"/></linearGradient>
<linearGradient id="gHat" x1="0" y1="0" x2="0" y2="1"><stop offset="0" stop-color="#7cc4f0"/><stop offset="1" stop-color="#3a8ac8"/></linearGradient>
<linearGradient id="gYel" x1="0" y1="0" x2="1" y2="1"><stop offset="0" stop-color="#fff0a0"/><stop offset="1" stop-color="#f0b820"/></linearGradient>
<linearGradient id="gRed" x1="0" y1="0" x2="0" y2="1"><stop offset="0" stop-color="#e85a38"/><stop offset="1" stop-color="#dc1a00"/></linearGradient>
<radialGradient id="gLens" cx=".5" cy=".5" r=".6"><stop offset="0" stop-color="#e8f8ff"/><stop offset="1" stop-color="#bfe6fa"/></radialGradient>
<linearGradient id="gClock" x1="0" y1="0" x2="1" y2="1"><stop offset="0" stop-color="#48a8ff"/><stop offset="1" stop-color="#0a4cb0"/></linearGradient>
<linearGradient id="gGrn" x1="0" y1="0" x2="1" y2="0"><stop offset="0" stop-color="#20d020"/><stop offset=".5" stop-color="#80ff80"/><stop offset="1" stop-color="#20d020"/></linearGradient>
<linearGradient id="gTB" x1="0" y1="0" x2="0" y2="1"><stop offset="0" stop-color="#2a6ae0"/><stop offset="1" stop-color="#1040b0"/></linearGradient>
<linearGradient id="gTG" x1="0" y1="0" x2="0" y2="1"><stop offset="0" stop-color="#48b020"/><stop offset="1" stop-color="#2a8a10"/></linearGradient>
</defs>
<g transform="translate(0,0)">
<path d="M15.5,2.7 h8 l3.5,3.5 v9.3 h-11.5 z" fill="#fff" stroke="#8c8c8c" stroke-width="1"/>
<path d="M23.5,2.7 v3.5 h3.5" fill="#e8e8e8" stroke="#8c8c8c" stroke-width="1"/>
<rect x="17.3" y="4.3" width="3" height="1.6" fill="#8a8a8a"/>
<rect x="17.3" y="8.0" width="5.5" height="1" fill="#a8a8a8"/>
<rect x="17.3" y="10.5" width="5.5" height="1" fill="#a8a8a8"/>
<rect x="17.3" y="13.0" width="5.5" height="1" fill="#a8a8a8"/>
<path d="M23.4,8.6 h3.2 v3.8 h3.8 v3.2 h-3.8 v3.8 h-3.2 v-3.8 h-3.8 v-3.2 h3.8 z" fill="url(#gPlus)" stroke="#0c9a0c" stroke-width="1" stroke-linejoin="round"/>
</g>
<text x="34" y="13.1" font-size="12" fill="#000" textLength="36" lengthAdjust="spacingAndGlyphs" style="font-family:'Liberation Sans','Noto Sans CJK SC',sans-serif">新订单</text>
<text x="186" y="13.1" font-size="12" fill="#000" textLength="48" lengthAdjust="spacingAndGlyphs" style="font-family:'Liberation Sans','Noto Sans CJK SC',sans-serif">自动交易</text>
<polygon points="87.4,3.2 97.8,10.7 96.8,12.6 89.4,17.9 82,11.9" fill="url(#gBook)" stroke="#a8701a" stroke-width="1" stroke-linejoin="round"/>
<path d="M82.3,12.4 L89.4,17.6 L97.4,11.4" fill="none" stroke="#9a6414" stroke-width="1.6" stroke-linejoin="round"/>
<path d="M83.4,11.9 L89.5,16.2 L96.6,10.9" fill="none" stroke="#ffeeb0" stroke-width=".7"/>
<path d="M112.2,3.2 L120,2.2 L123,4 L123,11.5 L112.2,11.5 z" fill="url(#gBlue)"/>
<path d="M112.2,3.2 L115,5 L123,4" fill="none" stroke="#bfe4ff" stroke-width=".8"/>
<path d="M115,5 L115,11.5" stroke="#bfe4ff" stroke-width=".8"/>
<rect x="116.5" y="6.3" width="5.5" height="1.6" fill="#e0f0ff"/>
<rect x="116.5" y="9" width="5.5" height="1" fill="#a0d0ff"/>
<path d="M113,17.5 a2.8,2.8 0 0 1 -0.3,-5.5 a3.2,3.2 0 0 1 5.6,-1.3 a2.6,2.6 0 0 1 4.4,1.6 a2.6,2.6 0 0 1 0.3,5.2 z" fill="url(#gCloud)" stroke="#4a68a8" stroke-width="1"/>
<path d="M146,2.4000000000000004 a7.6,7.6 0 0 0 0,15.2" fill="none" stroke="#3a62d0" stroke-width="1.1" opacity="0.4"/>
<path d="M146,2.4000000000000004 a7.6,7.6 0 0 1 0,15.2" fill="none" stroke="#3a9a48" stroke-width="1.3" opacity="0.4"/>
<path d="M146,4.8 a5.2,5.2 0 0 0 0,10.4" fill="none" stroke="#3a62d0" stroke-width="1.1" opacity="0.6"/>
<path d="M146,4.8 a5.2,5.2 0 0 1 0,10.4" fill="none" stroke="#3a9a48" stroke-width="1.3" opacity="0.6"/>
<path d="M146,10 L153.4,8 A7.6,7.6 0 0 1 146.5,17.6 z" fill="#58b060" opacity=".35"/>
<circle cx="145.8" cy="9.6" r="1.9" fill="#2a56c8"/>
<rect x="146" y="10" width="1.3" height="7.6" fill="#18a018"/>
<polygon points="165.6,8 180.6,8 175,17.6 172.5,16.8" fill="url(#gYel)" stroke="#c8a020" stroke-width=".8" stroke-linejoin="round"/>
<ellipse cx="173" cy="6.6" rx="8" ry="2.6" fill="url(#gHat)" stroke="#2a78b8" stroke-width=".7"/>
<ellipse cx="173" cy="4.6" rx="4.2" ry="2.6" fill="#7cc8f0" stroke="#3a8ac8" stroke-width=".6"/>
<circle cx="177.6" cy="13.6" r="4.4" fill="url(#gRed)"/>
<rect x="176.2" y="12.2" width="2.8" height="2.8" fill="#fff"/>
<path d="M259.5,5 V18" stroke="#555" stroke-width="1.3" fill="none"/>
<path d="M257,15.7 H269" stroke="#555" stroke-width="1.3" fill="none"/>
<polygon points="259.5,3.6 257.6,6.4 261.4,6.4" fill="#555"/>
<polygon points="270.8,15.7 268,13.8 268,17.6" fill="#555"/>
<path d="M265.4,5.3 V13.9 M265.4,6.3 H267.8 M263,12.4 H265.4" stroke="#0a8a0a" stroke-width="1.4" fill="none"/>
<path d="M287.5,5 V18" stroke="#555" stroke-width="1.3" fill="none"/>
<path d="M285,15.7 H297" stroke="#555" stroke-width="1.3" fill="none"/>
<polygon points="287.5,3.6 285.6,6.4 289.4,6.4" fill="#555"/>
<polygon points="298.8,15.7 296,13.8 296,17.6" fill="#555"/>
<path d="M293.5,2.2 V13.9" stroke="#0a8a0a" stroke-width="1.3"/>
<rect x="291.3" y="4.3" width="4.4" height="7.2" fill="url(#gGrn)" stroke="#0a8a0a" stroke-width="1"/>
<path d="M315.5,5 V18" stroke="#555" stroke-width="1.3" fill="none"/>
<path d="M313,15.7 H325" stroke="#555" stroke-width="1.3" fill="none"/>
<polygon points="315.5,3.6 313.6,6.4 317.4,6.4" fill="#555"/>
<polygon points="326.8,15.7 324,13.8 324,17.6" fill="#555"/>
<path d="M314.3,12.7 C316.5,11.5 318,7.2 320,7.2 C322,7.2 323.5,10.5 325.8,10.9" stroke="#2a962a" stroke-width="1.3" fill="none"/>
<path d="M354.8,12 L360.2,16.9" stroke="#a07818" stroke-width="3.4" stroke-linecap="butt"/>
<path d="M355.1,12.3 L360,16.7" stroke="#f0d030" stroke-width="1.8" stroke-linecap="butt"/>
<circle cx="351" cy="8" r="5.4" fill="url(#gLens)" stroke="#2f7fc6" stroke-width="1.3"/>
<path d="M348,8 H354" stroke="#3f8fc0" stroke-width="1.7"/>
<path d="M351,5 V11" stroke="#3f8fc0" stroke-width="1.7"/>
<path d="M382.8,12 L388.2,16.9" stroke="#a07818" stroke-width="3.4" stroke-linecap="butt"/>
<path d="M383.1,12.3 L388,16.7" stroke="#f0d030" stroke-width="1.8" stroke-linecap="butt"/>
<circle cx="379" cy="8" r="5.4" fill="url(#gLens)" stroke="#2f7fc6" stroke-width="1.3"/>
<path d="M376,8 H382" stroke="#3f8fc0" stroke-width="1.7"/>
<rect x="401" y="2" width="8" height="8" fill="url(#gTG)"/>
<rect x="402.2" y="3" width="1" height="1" fill="#dfe8ff"/>
<path d="M402.3,5 h5.4 v4 h-1.1 v-1 h-3.2 v1 h-1.1 z" fill="#fff"/>
<rect x="403.4" y="6.2" width="3.2" height=".9" fill="#9fd88a"/>
<rect x="409.2" y="2" width="8" height="8" fill="url(#gTB)"/>
<rect x="410.4" y="3" width="1" height="1" fill="#dfe8ff"/>
<path d="M410.5,5 h5.4 v4 h-1.1 v-1 h-3.2 v1 h-1.1 z" fill="#fff"/>
<rect x="411.59999999999997" y="6.2" width="3.2" height=".9" fill="#8aa8f0"/>
<rect x="401" y="10" width="8" height="8" fill="url(#gTB)"/>
<rect x="402.2" y="11" width="1" height="1" fill="#dfe8ff"/>
<path d="M402.3,13 h5.4 v4 h-1.1 v-1 h-3.2 v1 h-1.1 z" fill="#fff"/>
<rect x="403.4" y="14.2" width="3.2" height=".9" fill="#8aa8f0"/>
<rect x="409.2" y="10" width="8" height="8" fill="url(#gTG)"/>
<rect x="410.4" y="11" width="1" height="1" fill="#dfe8ff"/>
<path d="M410.5,13 h5.4 v4 h-1.1 v-1 h-3.2 v1 h-1.1 z" fill="#fff"/>
<rect x="411.59999999999997" y="14.2" width="3.2" height=".9" fill="#9fd88a"/>
<path d="M439.5,5 V18" stroke="#555" stroke-width="1.3" fill="none"/>
<path d="M437,15.7 H449" stroke="#555" stroke-width="1.3" fill="none"/>
<polygon points="439.5,3.6 437.6,6.4 441.4,6.4" fill="#555"/>
<polygon points="450.8,15.7 448,13.8 448,17.6" fill="#555"/>
<polygon points="444.3,6.2 444.3,12.8 448,9.5" fill="#70e070" stroke="#10a010" stroke-width="1" stroke-linejoin="round"/>
<path d="M467.5,5 V18" stroke="#555" stroke-width="1.3" fill="none"/>
<path d="M465,15.7 H477" stroke="#555" stroke-width="1.3" fill="none"/>
<polygon points="467.5,3.6 465.6,6.4 469.4,6.4" fill="#555"/>
<polygon points="478.8,15.7 476,13.8 476,17.6" fill="#555"/>
<path d="M473.5,4 V14" stroke="#1670b0" stroke-width="1.4"/>
<path d="M475,9.5 H479" stroke="#e05010" stroke-width="1.3"/>
<polygon points="474.3,9.5 477.8,7 477,9.5 477.8,12" fill="#e05010"/>
<g transform="translate(483,0)">
<path d="M15.5,2.7 h8 l3.5,3.5 v9.3 h-11.5 z" fill="#fff" stroke="#8c8c8c" stroke-width="1"/>
<path d="M23.5,2.7 v3.5 h3.5" fill="#e8e8e8" stroke="#8c8c8c" stroke-width="1"/>
<path d="M19.3,5 C18,5 18.6,8 17.4,8.6 C18.6,9.2 18,12.4 19.3,12.4" fill="none" stroke="#555" stroke-width="1"/>
<path d="M23.4,8.6 h3.2 v3.8 h3.8 v3.2 h-3.8 v3.8 h-3.2 v-3.8 h-3.8 v-3.2 h3.8 z" fill="url(#gPlus)" stroke="#0c9a0c" stroke-width="1" stroke-linejoin="round"/>
</g>
<polygon points="519.7,9 525.3,9 522.5,12" fill="#000"/>
<polygon points="558.7,9 564.3,9 561.5,12" fill="#000"/>
<polygon points="597.7,9 603.3,9 600.5,12" fill="#000"/>
<polygon points="903.7,9 909.3,9 906.5,12" fill="#000"/>
<circle cx="544" cy="9.8" r="6.6" fill="#fff" stroke="url(#gClock)" stroke-width="3"/>
<path d="M543.6,5.6 V10 L546.6,10.6" stroke="#222" stroke-width="1.2" fill="none"/>
<circle cx="544.00" cy="5.60" r=".35" fill="#888"/>
<circle cx="546.10" cy="6.16" r=".35" fill="#888"/>
<circle cx="547.64" cy="7.70" r=".35" fill="#888"/>
<circle cx="548.20" cy="9.80" r=".35" fill="#888"/>
<circle cx="547.64" cy="11.90" r=".35" fill="#888"/>
<circle cx="546.10" cy="13.44" r=".35" fill="#888"/>
<circle cx="544.00" cy="14.00" r=".35" fill="#888"/>
<circle cx="541.90" cy="13.44" r=".35" fill="#888"/>
<circle cx="540.36" cy="11.90" r=".35" fill="#888"/>
<circle cx="539.80" cy="9.80" r=".35" fill="#888"/>
<circle cx="540.36" cy="7.70" r=".35" fill="#888"/>
<circle cx="541.90" cy="6.16" r=".35" fill="#888"/>
<rect x="575.5" y="3.5" width="15" height="13" fill="#fff" stroke="#3c78c8" stroke-width="1.2"/>
<rect x="576" y="4" width="14" height="1.8" fill="#5a9ae8"/>
<rect x="576" y="10.6" width="14" height="1.2" fill="#3c78c8"/>
<path d="M577.6,9.4 H579.4 L581,8 L582.6,7.4 L584.2,8.6 H585.8 L587.4,7.6 H589" stroke="#a02808" stroke-width="1.2" fill="none"/>
<path d="M577.8,14.2 L579.6,14.2 L581.2,13.2 L583,14.4 L585.6,12.4 L586.6,12.4 L588.6,14.6" stroke="#18901c" stroke-width="1.2" fill="none"/>
<path d="M627.2,3 V14 L629.8,11.6 L632.2,16.8 L634,16 L631.6,11 L635,10.6 z" fill="#505050"/>
<path d="M659.5,3 V9 M659.5,12 V17.8 M652,10.5 H658 M661,10.5 H667" stroke="#555" stroke-width="1.1" fill="none"/>
<path d="M693.5,4 V17" stroke="#555" stroke-width="1.2"/>
<path d="M716,10.5 H728" stroke="#555" stroke-width="1.2"/>
<path d="M743.8,16.8 L756,4.7" stroke="#555" stroke-width="1.2"/>
<path d="M770,12 L779,4 M771.5,16 L784,5.2 M775,17 L785,8.6" stroke="#555" stroke-width="1" fill="none"/>
<path d="M773,7.5 V15 M776,6 V13.4 M779,4.2 V11.6 M782,2.4 V9.4" stroke="#555" stroke-width=".9" fill="none"/>
<text x="780.6" y="19" font-size="6.5" font-weight="bold" fill="#333">E</text>
</g><g shape-rendering="crispEdges">
<rect x="799" y="3" width="1" height="1" fill="#555"/>
<rect x="801" y="3" width="1" height="1" fill="#555"/>
<rect x="803" y="3" width="1" height="1" fill="#555"/>
<rect x="805" y="3" width="1" height="1" fill="#555"/>
<rect x="807" y="3" width="1" height="1" fill="#555"/>
<rect x="809" y="3" width="1" height="1" fill="#555"/>
<rect x="811" y="3" width="1" height="1" fill="#555"/>
<rect x="799" y="6" width="1" height="1" fill="#555"/>
<rect x="801" y="6" width="1" height="1" fill="#555"/>
<rect x="803" y="6" width="1" height="1" fill="#555"/>
<rect x="805" y="6" width="1" height="1" fill="#555"/>
<rect x="807" y="6" width="1" height="1" fill="#555"/>
<rect x="809" y="6" width="1" height="1" fill="#555"/>
<rect x="811" y="6" width="1" height="1" fill="#555"/>
<rect x="799" y="10" width="1" height="1" fill="#555"/>
<rect x="801" y="10" width="1" height="1" fill="#555"/>
<rect x="803" y="10" width="1" height="1" fill="#555"/>
<rect x="805" y="10" width="1" height="1" fill="#555"/>
<rect x="807" y="10" width="1" height="1" fill="#555"/>
<rect x="809" y="10" width="1" height="1" fill="#555"/>
<rect x="811" y="10" width="1" height="1" fill="#555"/>
<rect x="799" y="14" width="1" height="1" fill="#555"/>
<rect x="801" y="14" width="1" height="1" fill="#555"/>
<rect x="803" y="14" width="1" height="1" fill="#555"/>
<rect x="805" y="14" width="1" height="1" fill="#555"/>
<rect x="807" y="14" width="1" height="1" fill="#555"/>
</g><g shape-rendering="geometricPrecision">
<text x="808.8" y="19" font-size="6.5" font-weight="bold" fill="#333">F</text>
<path d="M830.5,15.1 L833.8,6.1 L837.1,15.1 M831.8,12.1 H835.8" stroke="#505050" stroke-width="1.5" fill="none" stroke-linejoin="miter"/>
</g><g shape-rendering="crispEdges">
<rect x="856" y="4" width="1" height="1" fill="#555"/><rect x="856" y="16" width="1" height="1" fill="#555"/>
<rect x="858" y="4" width="1" height="1" fill="#555"/><rect x="858" y="16" width="1" height="1" fill="#555"/>
<rect x="860" y="4" width="1" height="1" fill="#555"/><rect x="860" y="16" width="1" height="1" fill="#555"/>
<rect x="862" y="4" width="1" height="1" fill="#555"/><rect x="862" y="16" width="1" height="1" fill="#555"/>
<rect x="864" y="4" width="1" height="1" fill="#555"/><rect x="864" y="16" width="1" height="1" fill="#555"/>
<rect x="866" y="4" width="1" height="1" fill="#555"/><rect x="866" y="16" width="1" height="1" fill="#555"/>
<rect x="856" y="4" width="1" height="1" fill="#555"/><rect x="867" y="4" width="1" height="1" fill="#555"/>
<rect x="856" y="6" width="1" height="1" fill="#555"/><rect x="867" y="6" width="1" height="1" fill="#555"/>
<rect x="856" y="8" width="1" height="1" fill="#555"/><rect x="867" y="8" width="1" height="1" fill="#555"/>
<rect x="856" y="10" width="1" height="1" fill="#555"/><rect x="867" y="10" width="1" height="1" fill="#555"/>
<rect x="856" y="12" width="1" height="1" fill="#555"/><rect x="867" y="12" width="1" height="1" fill="#555"/>
<rect x="856" y="14" width="1" height="1" fill="#555"/><rect x="867" y="14" width="1" height="1" fill="#555"/>
<rect x="856" y="16" width="1" height="1" fill="#555"/><rect x="867" y="16" width="1" height="1" fill="#555"/>
<rect x="855" y="3" width="2" height="1" fill="#555"/>
<rect x="858" y="7" width="8" height="1.4" fill="#505050"/><rect x="861.3" y="7" width="1.5" height="8" fill="#505050"/>
</g><g shape-rendering="geometricPrecision">
<polygon points="886.5,3.6 882.9,7.6 886.5,8.6 890.1,7.6" fill="#505050"/>
<path d="M885.3,11.2 L887.6,13.4 L891.8,8.8" stroke="#505050" stroke-width="1.4" fill="none"/>
<polygon points="890.1,13 893.7,12.2 897.3,13 893.7,17" fill="#505050"/>
<text transform="translate(937,14) scale(.98,1)" text-anchor="middle" font-size="9.6" fill="#333">M1</text>
<text transform="translate(965.3,14) scale(.98,1)" text-anchor="middle" font-size="9.6" fill="#333">M5</text>
<text transform="translate(993.3,14) scale(.98,1)" text-anchor="middle" font-size="9.6" fill="#333">M15</text>
<text transform="translate(1021.3,14) scale(.98,1)" text-anchor="middle" font-size="9.6" fill="#333">M30</text>
<text transform="translate(1049.3,14) scale(.98,1)" text-anchor="middle" font-size="9.6" fill="#333">H1</text>
<text transform="translate(1077.3,14) scale(.98,1)" text-anchor="middle" font-size="9.6" fill="#333">H4</text>
<text transform="translate(1105.3,14) scale(.98,1)" text-anchor="middle" font-size="9.6" fill="#333">D1</text>
<text transform="translate(1133.3,14) scale(.98,1)" text-anchor="middle" font-size="9.6" fill="#333">W1</text>
<text transform="translate(1161.3,14) scale(.98,1)" text-anchor="middle" font-size="9.6" fill="#333">MN</text>
<path d="M1643.4,10.6 L1639.4,14.6" stroke="#2a60d0" stroke-width="3" stroke-linecap="round"/>
<circle cx="1646.7" cy="7.4" r="3.8" fill="#f4f4ff" stroke="#2a55d0" stroke-width="1.5"/>
<path d="M1663.4,11.8 a5.6,4.6 0 1 1 5.2,4.6 l-2,2 l0,-2.4 a5.6,4.6 0 0 1 -3.2,-4.2 z" fill="#e2e2e8" stroke="#a8a8a8" stroke-width=".9"/>
<circle cx="1677.4" cy="7.6" r="8.3" fill="url(#gRed)"/>
<text x="1677" y="12" text-anchor="middle" font-size="12" font-weight="bold" fill="#fff">1</text>
</g>
</svg>
</body></html>
